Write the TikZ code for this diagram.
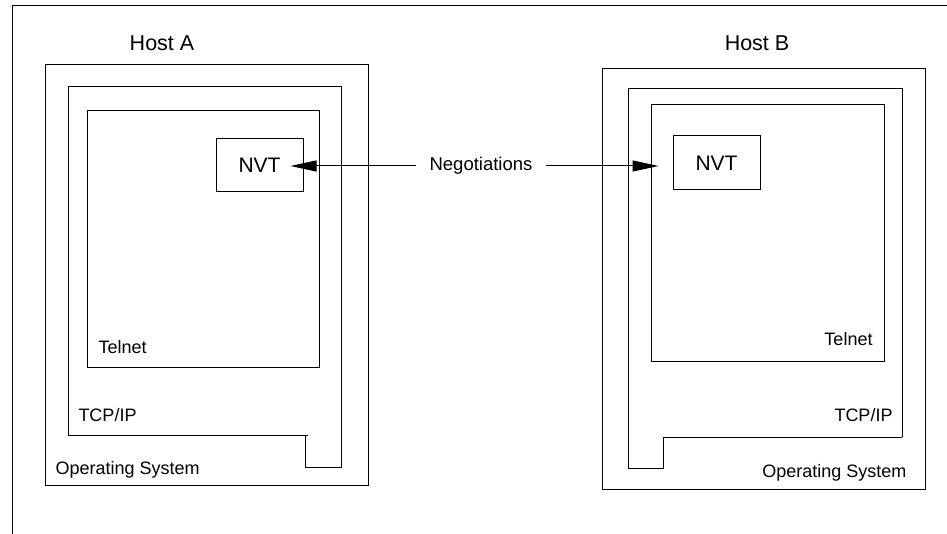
\documentclass[tikz,border=0pt]{standalone}
\usepackage{fontspec}
\setmainfont{Liberation Sans}
\usepackage{tikz}
\usetikzlibrary{positioning, arrows.meta}

\begin{document}
\begin{tikzpicture}[x=1pt, y=-1pt, line width=1pt,
    box/.style={draw, rectangle, inner sep=0pt},
    lbl/.style={inner sep=0pt, font=\fontsize{18}{20}\selectfont},
    host/.style={inner sep=0pt, font=\fontsize{21.5}{24}\selectfont},
    arr/.style={-{Triangle[length=26pt, width=11pt]}}]
    \useasboundingbox (0,0) rectangle (947,534);
    % frame
    \draw (12,534) -- (12,6) -- (947,6);

    % host A
    \node[host] (hostA) at (162,43) {Host A};
    \node[box, minimum width=323pt, minimum height=420pt] (osA) at (206.5,275) {};
    \draw (308,435) -- (68,435) -- (68,87) -- (341,87) -- (341,467) -- (305,467) -- (305,435);
    \node[box, minimum width=232pt, minimum height=256pt] (telA) at (203,239) {};
    \node[box, minimum width=87pt, minimum height=53pt, font=\fontsize{21}{24}\selectfont] (nvtA) at (259.5,165.5) {NVT};
    \node[lbl, anchor=west] (telnetA) at (98,347) {Telnet};
    \node[lbl, anchor=west] (tcpA) at (78,415) {TCP/IP};
    \node[lbl, anchor=west] (osLblA) at (55,470) {Operating System};

    % host B
    \node[host] (hostB) at (757,43) {Host B};
    \node[box, minimum width=323pt, minimum height=420pt] (osB) at (763.5,279) {};
    \draw (902,437) -- (902,89) -- (628,89) -- (628,468) -- (663,468) -- (663,437) -- (902,437);
    \node[box, minimum width=233pt, minimum height=256pt] (telB) at (767.5,233) {};
    \node[box, minimum width=87pt, minimum height=54pt, font=\fontsize{21}{24}\selectfont] (nvtB) at (716.5,163) {NVT};
    \node[lbl, anchor=east] (telnetB) at (873,339) {Telnet};
    \node[lbl, anchor=east] (tcpB) at (893,415) {TCP/IP};
    \node[lbl, anchor=east] (osLblB) at (907,473) {Operating System};

    % negotiations
    \node[lbl, inner xsep=13pt, font=\fontsize{18.5}{21}\selectfont] (nego) at (481,166) {Negotiations};
    \draw[arr, shorten >=-13pt] (nego.west) -- (nego.west -| nvtA.east);
    \draw[arr, shorten >=14pt] (nego.east) -- (nego.east -| nvtB.west);
\end{tikzpicture}
\end{document}
